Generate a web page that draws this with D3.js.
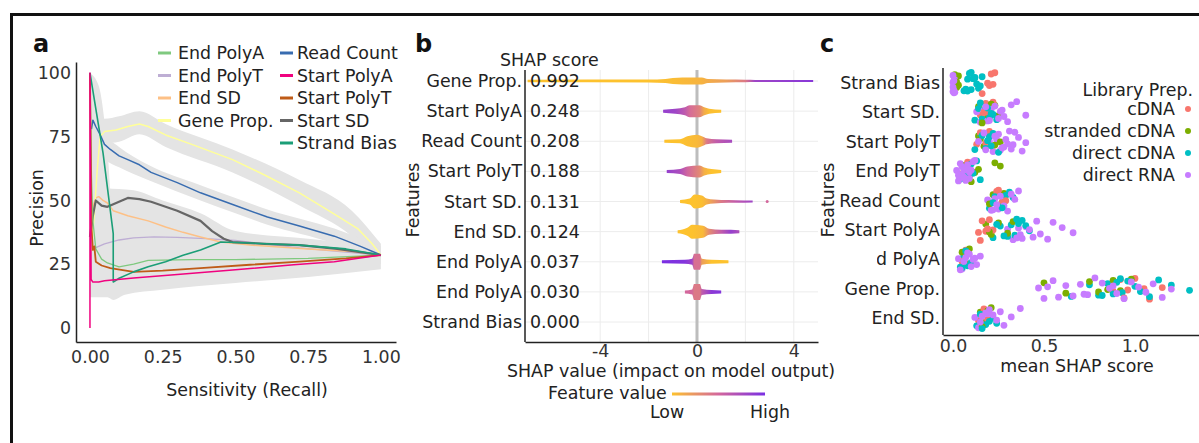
<!DOCTYPE html>
<html><head><meta charset="utf-8">
<script src="https://cdn.jsdelivr.net/npm/d3@7"></script>
<style>body{margin:0;background:#fff}svg{display:block}text{font-family:"DejaVu Sans",sans-serif}</style>
</head><body><svg id="fig" width="1199" height="443"></svg>
<script>
// ---------------- Panel a data: precision-recall curves [recall, precision] ----------------
const prNames = ["End PolyA","End PolyT","End SD","Gene Prop.","Read Count","Start PolyA","Start PolyT","Start SD","Strand Bias"];
const prColors = ["#7fc97f","#beaed4","#fdc086","#ffff99","#386cb0","#f0027f","#bf5b17","#666666","#1b9e77"];
const prEndPolyA = [[0,100],[0.005,60],[0.01,42],[0.02,31],[0.04,27],[0.06,25.5],[0.1,24],[0.15,25],[0.2,26.5],[0.35,26.8],[0.5,26.8],[0.75,27.3],[1,28.6]];
const prEndPolyT = [[0.005,31],[0.02,31.5],[0.05,33],[0.1,34.5],[0.15,35.3],[0.22,35.7],[0.3,35.5],[0.4,35],[0.5,34.3],[0.6,33],[0.72,31.4],[0.85,30],[1,28.6]];
const prEndSD = [[0.005,40],[0.01,47.5],[0.02,51],[0.03,51.5],[0.045,50],[0.06,49],[0.08,46],[0.13,44],[0.2,42],[0.26,39.6],[0.32,37.5],[0.38,35.7],[0.45,33.7],[0.55,32.5],[0.75,31],[0.9,30],[1,28.6]];
const prGeneProp = [[0.005,30],[0.015,45],[0.025,62],[0.035,75],[0.05,77],[0.09,77.6],[0.13,79],[0.17,80],[0.2,79],[0.26,75.7],[0.35,72],[0.49,66],[0.6,60],[0.72,53],[0.85,44],[0.92,39],[0.97,33],[1,28.6]];
const prReadCount = [[0.005,78],[0.01,81.5],[0.02,79],[0.034,76],[0.05,72],[0.07,70],[0.1,67.5],[0.13,66],[0.17,64],[0.21,61],[0.3,57],[0.38,53],[0.5,48],[0.61,43.5],[0.72,40],[0.84,36],[0.93,32],[1,28.6]];
const prStartPolyA = [[0,0],[0,100],[0.004,19],[0.01,18],[0.03,18],[0.05,18.5],[0.15,19.6],[0.3,21],[0.49,22.7],[0.7,24.8],[0.84,26],[1,28.6]];
const prStartPolyT = [[0,100],[0.005,40],[0.01,30.6],[0.015,32],[0.02,26],[0.04,24.5],[0.07,23.5],[0.15,22],[0.25,22.5],[0.38,23.5],[0.55,24.8],[0.72,26],[0.88,27.3],[1,28.6]];
const prStartSD = [[0,35.7],[0.01,44],[0.02,50],[0.04,48],[0.06,47.5],[0.1,49.5],[0.13,51],[0.17,50.5],[0.21,49.5],[0.3,46],[0.38,42],[0.42,38],[0.46,35],[0.49,33.7],[0.6,33],[0.72,32.5],[0.85,31],[1,28.6]];
const prStrandBias = [[0,100],[0.045,68.6],[0.08,37],[0.08,18],[0.1,19.5],[0.15,22],[0.2,24],[0.26,26],[0.32,28.5],[0.38,30.6],[0.45,33.7],[0.55,33.3],[0.72,32.5],[0.88,31],[1,28.6]];
const prSeries = [prEndPolyA,prEndPolyT,prEndSD,prGeneProp,prReadCount,prStartPolyA,prStartPolyT,prStartSD,prStrandBias];
// confidence bands [recall, low, high]
const bandGene = [[0.01,30,55],[0.03,55,82],[0.05,72,82],[0.1,73,83],[0.17,76,85],[0.26,71,80],[0.49,61,70],[0.72,48,58],[0.9,36,46],[1,25,33]];
const bandRead = [[0.01,70,84],[0.05,66,76],[0.1,63,71],[0.2,58,64],[0.38,50,56],[0.5,45,51],[0.61,40.5,46.5],[0.84,33,39],[1,25,32]];
const bandMid = [[0,28,60],[0.05,30,55],[0.15,32,54],[0.25,31,50],[0.38,30,45],[0.5,29,38],[0.75,28,35],[1,25,32]];
const bandLow = [[0,12,100],[0.03,12,95],[0.06,12,70],[0.08,11,40],[0.12,13,36],[0.25,15,36],[0.5,17.6,35],[0.75,20,33],[1,23,32]];
const prBands = [bandGene,bandRead,bandMid,bandLow];
const recallTicks = [0,0.25,0.5,0.75,1];
const precisionTicks = [0,25,50,75,100];

// ---------------- Panel b data: SHAP beeswarm profiles [shap value, half-density, feature value 0..1] ----------------
const shapFeatures = ["Gene Prop.","Start PolyA","Read Count","Start PolyT","Start SD.","End SD.","End PolyA","End PolyA","Strand Bias"];
const shapScores = ["0.992","0.248","0.208","0.188","0.131","0.124","0.037","0.030","0.000"];
const shapGeneProp = [[-7.0,1.3,0],[-2,1.4,0],[-1.3,2,0.02],[-1.0,3,0.03],[-0.6,3.5,0.05],[0.2,3.5,0.08],[0.45,2,0.12],[1.2,1.5,0.2],[2.0,1.3,0.4],[2.4,1.1,0.8],[4.8,1.0,0.92]];
const shapStartPolyA = [[-1.4,1.5,0.85],[-0.9,2.5,0.8],[-0.5,4,0.62],[-0.3,6,0.48],[0.1,6,0.36],[0.3,4,0.12],[0.5,2.5,0.02],[1.0,1.5,0]];
const shapReadCount = [[-1.35,1.5,0],[-0.7,2,0],[-0.4,5,0.02],[0.0,6.5,0.05],[0.2,5,0.1],[0.4,3,0.4],[0.8,2,0.6],[1.45,1.5,0.75]];
const shapStartPolyT = [[-1.25,1.5,0.85],[-0.7,2.5,0.72],[-0.4,5,0.52],[0.1,6,0.32],[0.3,4,0.1],[0.6,2.5,0],[1.0,1.5,0]];
const shapStartSD = [[-0.7,1.5,0],[-0.3,3,0],[-0.1,7,0],[0.2,6,0.02],[0.4,3,0.1],[1.0,1.5,0.4],[1.6,1.3,0.6],[2.3,1.0,0.8]];
const shapEndSD = [[-0.8,1.5,0],[-0.4,4,0],[-0.2,7,0],[0.25,6,0.05],[0.5,3,0.3],[1.0,2,0.6],[1.4,2,0.85],[1.75,1.5,0.7]];
const shapEndPolyA1 = [[-1.45,1.5,1],[-0.5,2,0.95],[-0.2,3,0.8],[-0.12,8,0.45],[0.12,8,0.45],[0.2,3,0.2],[0.6,2,0],[1.3,1.5,0]];
const shapEndPolyA2 = [[-0.5,1.5,0.5],[-0.2,2.5,0.5],[-0.12,8,0.4],[0.12,8,0.4],[0.2,3,0.6],[0.6,2,0.9],[1.0,1.5,0.95]];
const shapStrandBias = [];
const shapProfiles = [shapGeneProp,shapStartPolyA,shapReadCount,shapStartPolyT,shapStartSD,shapEndSD,shapEndPolyA1,shapEndPolyA2,shapStrandBias];
const shapOutliers = [[4,2.9,0.5]]; // [row, shap, feature value]
const shapTicks = [-4,0,4];
const shapGrid = [-4,-2,2,4];

// ---------------- Panel c data: mean SHAP per sample by library prep ----------------
const cFeatures = ["Strand Bias","Start SD.","Start PolyT","End PolyT","Read Count","Start PolyA","End PolyA","Gene Prop.","End SD."];
const libNames = ["cDNA","stranded cDNA","direct cDNA","direct RNA"];
const libColors = ["#f8766d","#7cae00","#00bfc4","#c77cff"];
const cDNA = [
 [0.2,0.21,0.22,0.23,0.19,0.16],
 [0.15,0.18,0.2,0.22,0.17],
 [0.13,0.15,0.18,0.2],
 [0.05,0.08],
 [0.21,0.24,0.27,0.25,0.29],
 [0.14,0.16,0.18,0.2,0.22,0.15,0.19],
 [0.05,0.07,0.06],
 [0.88,0.92,0.96,1.0,1.05,1.08,1.15,0.94],
 [0.14,0.17,0.19]];
const strandedCDNA = [
 [0.01,0.02,0.03,0.02,0.01,0.03,0.02],
 [0.14,0.19,0.23,0.25,0.21,0.16],
 [0.14,0.17,0.2,0.23,0.26,0.15],
 [0.06,0.09,0.12,0.14,0.26,0.23,0.1],
 [0.22,0.25,0.28,0.2],
 [0.18,0.21,0.25,0.3,0.33,0.2],
 [0.07,0.08,0.05,0.09],
 [0.5,0.62,0.75,0.8,0.88,0.92,0.98,0.85],
 [0.15,0.17,0.19,0.21,0.16]];
const directCDNA = [
 [0.06,0.08,0.1,0.12,0.14,0.16,0.09,0.11,0.13,0.07,0.1,0.15,0.12,0.08],
 [0.12,0.14,0.16,0.18,0.2,0.22,0.24,0.15,0.19,0.21],
 [0.12,0.15,0.18,0.2,0.22,0.25,0.16,0.19,0.21],
 [0.04,0.07,0.1,0.13,0.15,0.08,0.11],
 [0.2,0.23,0.26,0.29,0.31,0.33,0.22,0.27],
 [0.22,0.26,0.3,0.32,0.34,0.36,0.38,0.4,0.42,0.28,0.35,0.24],
 [0.04,0.06,0.08,0.1,0.05,0.07],
 [0.65,0.75,0.8,0.85,0.88,0.9,0.93,0.96,1.0,1.03,1.08,1.13,1.2,1.3,0.82,0.92],
 [0.13,0.15,0.18,0.2,0.22,0.24,0.16]];
const directRNA = [
 [0.0,0.005,0.01,0.0,0.01,0.005,0.0,0.01,0.0,0.005],
 [0.13,0.15,0.17,0.19,0.21,0.23,0.26,0.28,0.3,0.32,0.25,0.27,0.35,0.4,0.18,0.2],
 [0.2,0.22,0.24,0.26,0.28,0.3,0.32,0.34,0.36,0.38,0.4,0.25,0.27,0.29,0.31,0.33,0.23,0.18,0.14,0.17],
 [0.02,0.03,0.04,0.05,0.06,0.07,0.08,0.09,0.1,0.11,0.03,0.05,0.07,0.09,0.04,0.06,0.08,0.12],
 [0.19,0.21,0.23,0.25,0.28,0.3,0.32,0.34,0.36,0.24,0.26,0.22],
 [0.3,0.33,0.36,0.38,0.4,0.44,0.48,0.52,0.55,0.6,0.66,0.35,0.42,0.46,0.37],
 [0.03,0.05,0.07,0.09,0.11,0.13,0.15,0.04,0.06,0.08,0.1,0.12],
 [0.47,0.5,0.52,0.58,0.62,0.66,0.7,0.74,0.78,0.82,0.86,0.9,0.94,0.98,1.02,1.06,1.1,1.15,1.2,0.55,0.72,0.88],
 [0.12,0.14,0.16,0.18,0.2,0.22,0.24,0.26,0.28,0.32,0.37,0.15,0.19]];
const libData = [cDNA,strandedCDNA,directCDNA,directRNA];
const meanTicks = [0,0.5,1.0];

// ===================== drawing =====================
const svg = d3.select("#fig");
const FS = 17.4, TXT = "#222";
const defs = svg.append("defs");

// frame
svg.append("line").attr("x1",10).attr("x2",1199).attr("y1",14.5).attr("y2",14.5).attr("stroke","#111").attr("stroke-width",3);
svg.append("line").attr("x1",11.5).attr("x2",11.5).attr("y1",13).attr("y2",443).attr("stroke","#111").attr("stroke-width",3);

function panelLabel(t,x){ svg.append("text").attr("x",x).attr("y",52).attr("font-size",24).attr("font-weight","bold").attr("fill","#111").text(t); }
panelLabel("a",33); panelLabel("b",415); panelLabel("c",820);

function styleAxis(g){
  g.select(".domain").attr("stroke","#222").attr("stroke-width",1.5);
  g.selectAll("text").attr("font-size",FS).attr("fill","#333").attr("font-family","DejaVu Sans");
}

// ---------- Panel a ----------
const xA = d3.scaleLinear().domain([-0.048,1.052]).range([76,396]);
const yA = d3.scaleLinear().domain([-5.5,104.3]).range([342,62]);
const gA = svg.append("g");
const bandArea = d3.area().x(d=>xA(d[0])).y0(d=>yA(d[1])).y1(d=>yA(d[2])).curve(d3.curveMonotoneX);
prBands.forEach(b=>gA.append("path").attr("d",bandArea(b)).attr("fill","#e4e4e4"));
const lineA = d3.line().x(d=>xA(d[0])).y(d=>yA(d[1]));
const drawOrder = [1,2,3,4,7,0,6,8,5];
const widths = [1.3,1.3,1.5,1.5,1.5,1.5,1.8,2.2,1.6];
drawOrder.forEach(i=>gA.append("path").attr("d",lineA(prSeries[i])).attr("fill","none")
  .attr("stroke",prColors[i]).attr("stroke-width",widths[i]).attr("stroke-linejoin","round"));
const axAx = gA.append("g").attr("transform","translate(0,342)")
  .call(d3.axisBottom(xA).tickValues(recallTicks).tickFormat(d3.format(".2f")).tickSize(0).tickSizeOuter(0).tickPadding(9));
styleAxis(axAx);
const axAy = gA.append("g").attr("transform","translate(76,0)")
  .call(d3.axisLeft(yA).tickValues(precisionTicks).tickSize(0).tickSizeOuter(0).tickPadding(5));
styleAxis(axAy);
gA.append("text").attr("x",247).attr("y",396).attr("text-anchor","middle").attr("font-size",FS).attr("fill",TXT).text("Sensitivity (Recall)");
gA.append("text").attr("transform","translate(43,208) rotate(-90)").attr("text-anchor","middle").attr("font-size",FS).attr("fill",TXT).text("Precision");
// legend
prNames.forEach((n,i)=>{
  const col = i<4?0:1, row = i<4?i:i-4;
  const kx = col===0?158:280, tx = col===0?178:297, cy = 53+row*22.5;
  gA.append("line").attr("x1",kx).attr("x2",kx+13).attr("y1",cy).attr("y2",cy).attr("stroke",prColors[i]).attr("stroke-width",3);
  gA.append("text").attr("x",tx).attr("y",cy+6).attr("font-size",FS).attr("fill",TXT).text(n);
});

// ---------- Panel b ----------
const xB = d3.scaleLinear().domain([-7.107,5.0]).range([525,818]);
const yB = d3.scalePoint().domain(d3.range(shapFeatures.length)).range([81,322]);
const gB = svg.append("g");
shapGrid.forEach(v=>gB.append("line").attr("x1",xB(v)).attr("x2",xB(v)).attr("y1",70).attr("y2",342).attr("stroke","#ececec").attr("stroke-width",1));
shapFeatures.forEach((f,i)=>gB.append("line").attr("x1",525).attr("x2",818).attr("y1",yB(i)).attr("y2",yB(i)).attr("stroke","#ececec").attr("stroke-width",1));
gB.append("line").attr("x1",xB(0)).attr("x2",xB(0)).attr("y1",70).attr("y2",342).attr("stroke","#bdbdbd").attr("stroke-width",3);
const shapColor = d3.scaleLinear().domain([0,0.5,1]).range(["#fdc22e","#d3679c","#7a2fe3"]);
shapProfiles.forEach((prof,i)=>{
  if(!prof.length) return;
  const x0 = prof[0][0], x1 = prof[prof.length-1][0];
  const gid = "sg"+i;
  const grad = defs.append("linearGradient").attr("id",gid).attr("x1","0").attr("x2","1").attr("y1","0").attr("y2","0");
  prof.forEach(p=>grad.append("stop").attr("offset",(p[0]-x0)/(x1-x0)).attr("stop-color",shapColor(p[2])));
  const cy = yB(i);
  const ar = d3.area().x(d=>xB(d[0])).y0(d=>cy-d[1]).y1(d=>cy+d[1]).curve(d3.curveMonotoneX);
  gB.append("path").attr("d",ar(prof)).attr("fill",`url(#${gid})`);
});
shapOutliers.forEach(o=>gB.append("circle").attr("cx",xB(o[1])).attr("cy",yB(o[0])).attr("r",1.5).attr("fill",shapColor(o[2])));
gB.append("line").attr("x1",525).attr("x2",525).attr("y1",70).attr("y2",342).attr("stroke","#222").attr("stroke-width",1.5);
const axBx = gB.append("g").attr("transform","translate(0,342)")
  .call(d3.axisBottom(xB).tickValues(shapTicks).tickFormat(d=>String(d)).tickSize(0).tickSizeOuter(0).tickPadding(3));
styleAxis(axBx);
shapFeatures.forEach((f,i)=>{
  gB.append("text").attr("x",522).attr("y",yB(i)+6).attr("text-anchor","end").attr("font-size",FS).attr("fill",TXT).text(f);
  gB.append("text").attr("x",530).attr("y",yB(i)+6).attr("font-size",FS).attr("fill",TXT).text(shapScores[i]);
});
gB.append("text").attr("x",500).attr("y",66).attr("font-size",FS).attr("fill",TXT).text("SHAP score");
gB.append("text").attr("transform","translate(419,200) rotate(-90)").attr("text-anchor","middle").attr("font-size",FS).attr("fill",TXT).text("Features");
gB.append("text").attr("x",671).attr("y",377).attr("text-anchor","middle").attr("font-size",FS).attr("fill",TXT).text("SHAP value (impact on model output)");
gB.append("text").attr("x",548).attr("y",399).attr("font-size",FS).attr("fill",TXT).text("Feature value");
const lg = defs.append("linearGradient").attr("id","legGrad");
[0,0.5,1].forEach(v=>lg.append("stop").attr("offset",v).attr("stop-color",shapColor(v)));
gB.append("rect").attr("x",672).attr("y",392.5).attr("width",93).attr("height",3).attr("fill","url(#legGrad)");
gB.append("text").attr("x",667).attr("y",418).attr("text-anchor","middle").attr("font-size",FS).attr("fill",TXT).text("Low");
gB.append("text").attr("x",770).attr("y",418).attr("text-anchor","middle").attr("font-size",FS).attr("fill",TXT).text("High");

// ---------- Panel c ----------
const xC = d3.scaleLinear().domain([-0.055,1.352]).range([943,1199]);
const yC = d3.scalePoint().domain(d3.range(cFeatures.length)).range([83,318]);
const gC = svg.append("g");
cFeatures.forEach((f,i)=>{
  const pts = [];
  const maxLen = d3.max(libData,l=>l[i].length);
  for(let k=0;k<maxLen;k++) libData.forEach((l,li)=>{ if(k<l[i].length) pts.push([l[i][k],li]); });
  pts.forEach((p,k)=>{
    const jit = (((k+1)*0.6180339887)%1 - 0.5)*22;
    gC.append("circle").attr("cx",xC(p[0])).attr("cy",yC(i)+jit).attr("r",3.4).attr("fill",libColors[p[1]]);
  });
});
gC.append("line").attr("x1",943).attr("x2",943).attr("y1",68).attr("y2",335).attr("stroke","#222").attr("stroke-width",1.5);
const axCx = gC.append("g").attr("transform","translate(0,335)")
  .call(d3.axisBottom(xC).tickValues(meanTicks).tickFormat(d3.format(".1f")).tickSize(0).tickSizeOuter(0).tickPadding(5));
styleAxis(axCx);
defs.append("clipPath").attr("id","clipEnd").append("rect").attr("x",877).attr("y",0).attr("width",70).attr("height",443);
cFeatures.forEach((f,i)=>{
  const t = gC.append("text").attr("x",940).attr("y",yC(i)+6).attr("text-anchor","end").attr("font-size",FS).attr("fill",TXT).text(f);
  if(f==="End PolyA") t.attr("clip-path","url(#clipEnd)");
});
gC.append("text").attr("transform","translate(834,200) rotate(-90)").attr("text-anchor","middle").attr("font-size",FS).attr("fill",TXT).text("Features");
gC.append("text").attr("x",1077).attr("y",372).attr("text-anchor","middle").attr("font-size",FS).attr("fill",TXT).text("mean SHAP score");
gC.append("text").attr("x",1193).attr("y",96).attr("text-anchor","end").attr("font-size",FS).attr("fill",TXT).text("Library Prep.");
libNames.forEach((n,i)=>{
  const cy = [109,131,153,175][i];
  gC.append("text").attr("x",1175).attr("y",cy+6).attr("text-anchor","end").attr("font-size",FS).attr("fill",TXT).text(n);
  gC.append("circle").attr("cx",1188).attr("cy",cy).attr("r",3).attr("fill",libColors[i]);
});
</script></body></html>
